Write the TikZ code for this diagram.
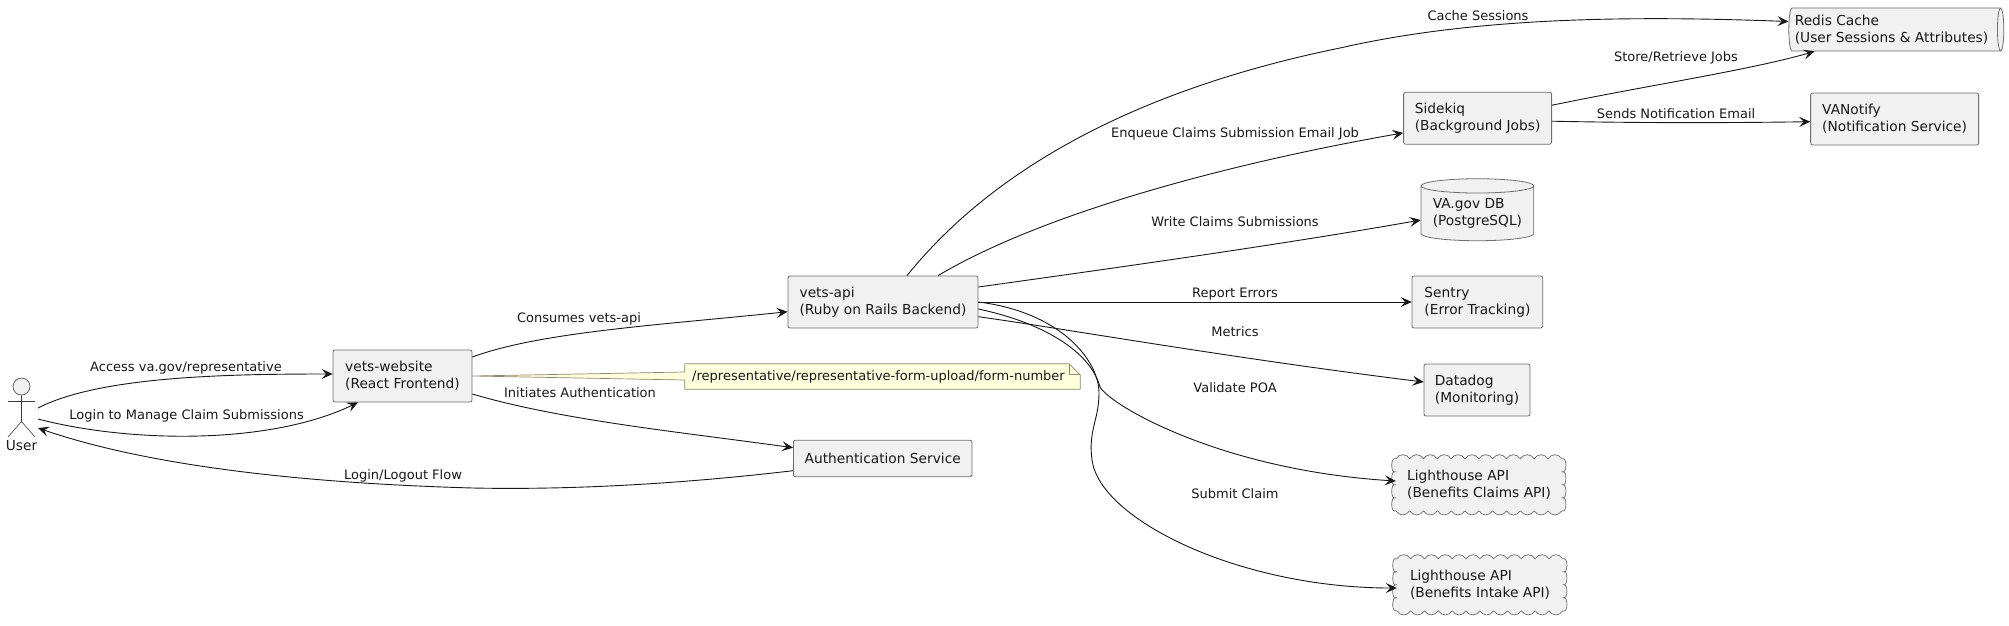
\documentclass[tikz,border=0pt]{standalone}
\usepackage{fontspec}
\setmainfont{DejaVu Sans}
\usetikzlibrary{arrows.meta,shapes.geometric,backgrounds}
\definecolor{boxfill}{HTML}{F1F1F1}
\definecolor{boxline}{HTML}{6E6E6E}
\definecolor{ink}{HTML}{181818}
\definecolor{notefill}{HTML}{FEFFDD}
\definecolor{noteline}{HTML}{8A8A6A}
\tikzset{
  x=1pt,y=-1pt,
  boxtext/.style={font=\fontsize{13.75}{16.7}\selectfont,align=left,text=ink},
  svc/.style={boxtext,draw=boxline,fill=boxfill,line width=.8pt,rounded corners=2pt,inner sep=0pt},
  cloudbox/.style={boxtext,inner sep=0pt},
  cloudline/.style={draw=boxline,fill=boxfill,line width=.7pt,line join=round},
  elabel/.style={font=\fontsize{13}{15}\selectfont,text=ink,inner sep=0pt},
  link/.style={draw=ink,line width=.9pt,-{Stealth[length=11pt,width=10pt,inset=4.5pt]}},
  stick/.style={draw=ink!85,line width=.6pt},
}
% #1 node, #2 bumps across, #3 bumps down, #4 bump step across, #5 bump step down
\newcommand\cloudoutline[5]{%
  \draw[cloudline] (#1.north west)
    \foreach \k in {1,...,#2} { .. controls +(3.5,-5.5) and +(-3.5,-5.5) .. ++(#4,0) }
    \foreach \k in {1,...,#3} { .. controls +(5.5,-3) and +(5.5,3) .. ++(0,#5) }
    \foreach \k in {1,...,#2} { .. controls +(-3.5,5.5) and +(3.5,5.5) .. ++(-#4,0) }
    \foreach \k in {1,...,#3} { .. controls +(-5.5,3) and +(-5.5,-3) .. ++(0,-#5) }
    -- cycle;
}
\begin{document}
\begin{tikzpicture}
\useasboundingbox (0,0) rectangle (2009,625);
\begin{scope}[on background layer]
  \fill[white] (0,0) rectangle (2009,625);
\end{scope}

% actor
\node[circle,draw=ink!85,line width=.6pt,fill=boxfill,minimum size=17pt,inner sep=0pt] (head) at (21.5,386.5) {};
\node[boxtext,inner sep=0pt] (user) at (21.5,446) {User};
\coordinate (hip) at (21.5,421.5);
\coordinate (arml) at (8,401.5);
\coordinate (armr) at (35,401.5);
\coordinate (legl) at (8,437);
\coordinate (legr) at (35,437);
\coordinate (actor) at (38,419);
\draw[stick] (head.south) -- (hip) (arml) -- (armr) (legl) -- (hip) -- (legr);

% boxes
\node[svc,minimum width=139pt,minimum height=52pt] (web) at (402.5,376) {vets-website\\(React Frontend)};
\node[svc,minimum width=190pt,minimum height=52pt] (api) at (883,302) {vets-api\\(Ruby on Rails Backend)};
\node[svc,minimum width=178.6pt,minimum height=36.4pt] (auth) at (882.7,458.5) {Authentication Service};
\node[svc,minimum width=148pt,minimum height=52pt] (sidekiq) at (1477.6,118.2) {Sidekiq\\(Background Jobs)};
\node[svc,minimum width=168pt,minimum height=52pt] (vanotify) at (1894.6,119) {VANotify\\(Notification Service)};
\node[svc,minimum width=130.7pt,minimum height=52pt] (sentry) at (1477.4,302) {Sentry\\(Error Tracking)};
\node[svc,minimum width=106pt,minimum height=52pt] (datadog) at (1477,390) {Datadog\\(Monitoring)};
\node[cloudbox,minimum width=166pt,minimum height=52pt] (claimsapi) at (1479,485) {Lighthouse API\\(Benefits Claims API)};
\node[cloudbox,minimum width=166pt,minimum height=52pt] (intakeapi) at (1480,585) {Lighthouse API\\(Benefits Intake API)};
\begin{scope}[on background layer]
  \cloudoutline{claimsapi}{12}{4}{13.8333}{13}
  \cloudoutline{intakeapi}{12}{4}{13.8333}{13}
\end{scope}
\node[boxtext,draw=boxline,fill=boxfill,line width=.8pt,cylinder,shape border rotate=90,aspect=.16,minimum width=112.7pt,minimum height=62pt,inner sep=0pt] (db) at (1477.4,213.5) {VA.gov DB\\(PostgreSQL)};
\node[boxtext,draw=boxline,fill=boxfill,line width=.8pt,cylinder,shape border rotate=0,aspect=.22,minimum width=43pt,minimum height=215pt,inner sep=0pt] (redis) at (1894.5,29.5) {Redis Cache\hspace*{6pt}\\(User Sessions \& Attributes)\hspace*{6pt}};

% note
\node[boxtext,font=\fontsize{13}{15}\selectfont,inner sep=0pt,minimum width=395pt,minimum height=25pt] (note) at (882.5,376.5) {/representative/representative-form-upload/form-number\hspace*{8pt}};
\begin{scope}[on background layer]
  \draw[fill=notefill,draw=noteline,line width=.7pt,line join=round]
    (web.east) -- ([yshift=4.5pt]note.west) -- (note.north west) -- ([xshift=-11pt]note.north east)
    -- ([yshift=-11pt]note.north east) -- (note.south east) -- (note.south west)
    -- ([yshift=-3.5pt]note.west) -- cycle;
  \draw[draw=noteline,line width=.7pt] ([xshift=-11pt]note.north east) -- ([xshift=-11pt,yshift=-11pt]note.north east) -- ([yshift=-11pt]note.north east);
\end{scope}

% connectors
\draw[link] ([yshift=11pt]actor) .. controls (100,376) and (230,374) .. ([yshift=2pt]web.west);
\draw[link] (actor) .. controls (130,443) and (270,445) .. ([xshift=-44.5pt]web.south);
\draw[link] ([yshift=-12.2pt]auth.west) .. controls (680,484) and (570,490) .. (473,488) .. controls (330,484) and (160,470) .. ([yshift=-9pt]actor);
\draw[link] ([yshift=19pt]web.east) .. controls (540,332) and (660,325) .. ([yshift=-9.7pt]api.west);
\draw[link] ([yshift=-18pt]web.east) .. controls (560,420) and (680,432) .. ([yshift=10.8pt]auth.west);
\draw[link] ([xshift=24pt]api.north) .. controls (980,185) and (1110,95) .. (1340,48) .. controls (1480,16) and (1640,16) .. ([yshift=8pt]redis.west);
\draw[link] ([xshift=55pt]api.north) .. controls (1040,215) and (1220,165) .. ([yshift=-14.7pt]sidekiq.west);
\draw[link] ([yshift=15pt]api.east) .. controls (1100,270) and (1280,245) .. ([yshift=-6.5pt]db.west);
\draw[link] (api.east) -- (sentry.west);
\draw[link] ([yshift=-14.7pt]api.east) .. controls (1060,328) and (1230,358) .. ([yshift=8pt]datadog.west);
\draw[link] ([yshift=-7pt]api.east) .. controls (1040,322) and (1090,350) .. (1100,387) .. controls (1110,405) and (1220,470) .. ([yshift=4pt]claimsapi.west);
\draw[link] (api.east) .. controls (1060,312) and (1099,360) .. (1099,393) .. controls (1099,420) and (1088,430) .. (1092,460) .. controls (1100,520) and (1240,588) .. ([yshift=-3pt]intakeapi.west);
\draw[link] ([yshift=13pt]sidekiq.east) .. controls (1650,85) and (1750,70) .. ([xshift=-80pt]redis.south);
\draw[link] ([yshift=-3pt]sidekiq.east) .. controls (1640,123) and (1720,123) .. ([yshift=-2.7pt]vanotify.west);

% labels
\node[elabel] (l1) at (186,367.7) {Access va.gov/representative};
\node[elabel] (l2) at (186.6,415.7) {Login to Manage Claim Submissions};
\node[elabel] (l3) at (403,476) {Login/Logout Flow};
\node[elabel] (l4) at (580,393) {Initiates Authentication};
\node[elabel] (l5) at (579,319) {Consumes vets-api};
\node[elabel] (l6) at (1235,294) {Report Errors};
\node[elabel] (l7) at (1235,331.7) {Metrics};
\node[elabel] (l8) at (1235,388) {Validate POA};
\node[elabel] (l9) at (1235,494) {Submit Claim};
\node[elabel] (l10) at (1235,222) {Write Claims Submissions};
\node[elabel] (l11) at (1235,134) {Enqueue Claims Submission Email Job};
\node[elabel] (l12) at (1478,15.7) {Cache Sessions};
\node[elabel] (l13) at (1676,57.7) {Store/Retrieve Jobs};
\node[elabel] (l14) at (1676,114) {Sends Notification Email};
\end{tikzpicture}
\end{document}
